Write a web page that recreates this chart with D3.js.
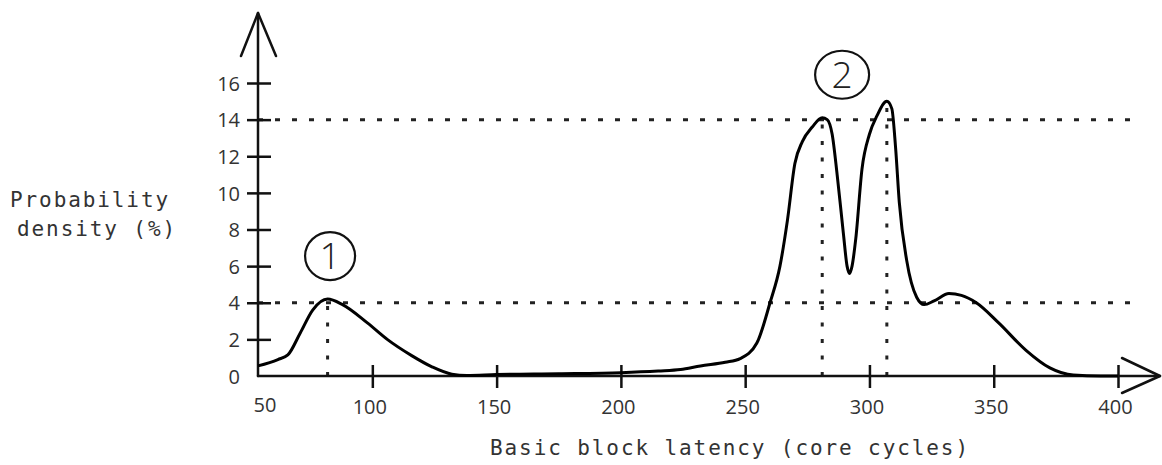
<!DOCTYPE html>
<html>
<head>
<meta charset="utf-8">
<script src="https://cdn.jsdelivr.net/npm/d3@7"></script>
<style>
  body { margin: 0; background: #fff; }
  svg { display: block; }
</style>
</head>
<body>
<div id="chart"></div>
<script>
// latency values (core cycles)
const latency = [54, 62, 66, 71, 76, 82, 88, 98, 106, 116, 124, 132, 138, 150, 175, 200, 215, 224, 232, 242, 248,
  254.7, 260, 264, 267, 270, 273, 277, 281, 283, 285, 287, 289.5, 291, 292, 293, 294.5, 297, 300, 303, 307, 309,
  310.5, 312, 315, 319, 322, 326, 332, 337, 343, 352, 363, 372.6, 382, 393, 400];
// probability density (%)
const density = [0.55, 0.9, 1.15, 2.35, 3.6, 4.2, 3.9, 2.9, 2.0, 1.1, 0.5, 0.1, 0.03, 0.08, 0.12, 0.18, 0.27, 0.35, 0.55, 0.75, 0.95,
  1.8, 4.0, 6.0, 8.5, 11.6, 12.8, 13.6, 14.1, 14.0, 13.2, 11.0, 7.8, 6.0, 5.6, 6.0, 7.5, 11.3, 13.2, 14.2, 15.0, 14.6,
  12.5, 9.5, 6.3, 4.3, 3.9, 4.1, 4.5, 4.4, 4.0, 2.9, 1.4, 0.44, 0.05, 0, 0];

const xTicks = [100, 150, 200, 250, 300, 350, 400];
const xStartLabel = "50";
const yTicks = [0, 2, 4, 6, 8, 10, 12, 14, 16];

// reference lines
const hLines = [4, 14];
const vLines = [{ x: 82, y: 4.2 }, { x: 281, y: 14.1 }, { x: 307, y: 15.0 }];

// circled markers
const markers = [{ label: "1", x: 83, y: 6.55 }, { label: "2", x: 289, y: 16.45 }];

const W = 1162, H = 465;
const svg = d3.select("#chart").append("svg")
  .attr("width", W).attr("height", H);

const x = d3.scaleLinear().domain([54, 400]).range([258, 1118]);
const y = d3.scaleLinear().domain([0, 16]).range([376, 83]);

const ink = "#111";

// dotted guides
svg.append("g").selectAll("line.h")
  .data(hLines).enter().append("line")
  .attr("x1", x(54)).attr("x2", 1142)
  .attr("y1", d => y(d)).attr("y2", d => y(d))
  .attr("stroke", "#222").attr("stroke-width", 3)
  .attr("stroke-dasharray", "5,12");

svg.append("g").selectAll("line.v")
  .data(vLines).enter().append("line")
  .attr("x1", d => x(d.x)).attr("x2", d => x(d.x))
  .attr("y1", y(0)).attr("y2", d => y(d.y))
  .attr("stroke", "#222").attr("stroke-width", 3)
  .attr("stroke-dasharray", "4,12.5");

// y axis
const yAxis = svg.append("g")
  .attr("transform", "translate(" + x(54) + ",0)")
  .call(d3.axisLeft(y).tickValues(yTicks).tickSize(11).tickPadding(8));
yAxis.select(".domain").remove();
yAxis.selectAll(".tick line")
  .attr("x1", -11).attr("x2", 13)
  .attr("stroke", ink).attr("stroke-width", 2.5);
yAxis.selectAll(".tick text")
  .attr("x", -18)
  .attr("dy", "0.36em")
  .style("font-family", "'Open Sans', sans-serif")
  .style("font-size", "20px")
  .attr("fill", "#333");
yAxis.select(".tick:first-of-type line").remove();

// x axis
const xAxis = svg.append("g")
  .attr("transform", "translate(0," + y(0) + ")")
  .call(d3.axisBottom(x).tickValues(xTicks).tickSize(12).tickPadding(12));
xAxis.select(".domain").remove();
xAxis.selectAll(".tick line")
  .attr("y1", -11).attr("y2", 12)
  .attr("stroke", ink).attr("stroke-width", 2.5);
xAxis.selectAll(".tick text")
  .attr("dx", "-3")
  .style("font-family", "'Open Sans', sans-serif")
  .style("font-size", "20px")
  .attr("fill", "#333");

svg.append("text")
  .attr("x", x(54) + 7).attr("y", y(0) + 36)
  .attr("text-anchor", "middle")
  .style("font-family", "'Open Sans', sans-serif")
  .style("font-size", "20px")
  .attr("fill", "#333")
  .text(xStartLabel);

// axis lines with open arrowheads
const axisG = svg.append("g")
  .attr("fill", "none").attr("stroke", ink)
  .attr("stroke-width", 2.5).attr("stroke-linecap", "round").attr("stroke-linejoin", "round");

const yTop = y(16) - 70;
axisG.append("line")
  .attr("x1", x(54)).attr("x2", x(54))
  .attr("y1", y(0)).attr("y2", yTop);
axisG.append("path")
  .attr("d", "M" + (x(54) - 17) + "," + (yTop + 43) + "L" + x(54) + "," + yTop + "L" + (x(54) + 18) + "," + (yTop + 43));

const xEnd = 1160;
axisG.append("line")
  .attr("x1", x(54)).attr("x2", xEnd)
  .attr("y1", y(0)).attr("y2", y(0));
axisG.append("path")
  .attr("d", "M" + (xEnd - 38) + "," + (y(0) - 18) + "L" + xEnd + "," + y(0) + "L" + (xEnd - 38) + "," + (y(0) + 17));

// density curve
const pts = latency.map((v, i) => [v, density[i]]);
const line = d3.line()
  .x(d => x(d[0]))
  .y(d => y(d[1]))
  .curve(d3.curveMonotoneX);

svg.append("path")
  .datum(pts)
  .attr("d", line)
  .attr("fill", "none")
  .attr("stroke", "#000")
  .attr("stroke-width", 3)
  .attr("stroke-linejoin", "round");

// circled markers
const mk = svg.append("g").selectAll("g")
  .data(markers).enter().append("g")
  .attr("transform", d => "translate(" + x(d.x) + "," + y(d.y) + ")");
mk.append("ellipse")
  .attr("rx", (d, i) => i === 0 ? 25 : 27)
  .attr("ry", 24)
  .attr("fill", "none")
  .attr("stroke", ink)
  .attr("stroke-width", 2.2);
mk.append("text")
  .attr("text-anchor", "middle")
  .attr("dy", "0.36em")
  .style("font-family", "'Open Sans', sans-serif")
  .style("font-weight", 300)
  .style("font-size", "37px")
  .attr("fill", "#222")
  .text(d => d.label);

// axis titles
const mono = "'DejaVu Sans Mono', monospace";
const yTitle = svg.append("text")
  .style("font-family", mono)
  .style("font-size", "21px")
  .style("letter-spacing", "1.9px")
  .attr("fill", "#333");
yTitle.append("tspan").attr("x", 10).attr("y", 207).text("Probability");
yTitle.append("tspan").attr("x", 17).attr("y", 236).text("density (%)");

svg.append("text")
  .attr("x", 490).attr("y", 455)
  .style("font-family", mono)
  .style("font-size", "21px")
  .style("letter-spacing", "1.9px")
  .attr("fill", "#333")
  .text("Basic block latency (core cycles)");
</script>
</body>
</html>
